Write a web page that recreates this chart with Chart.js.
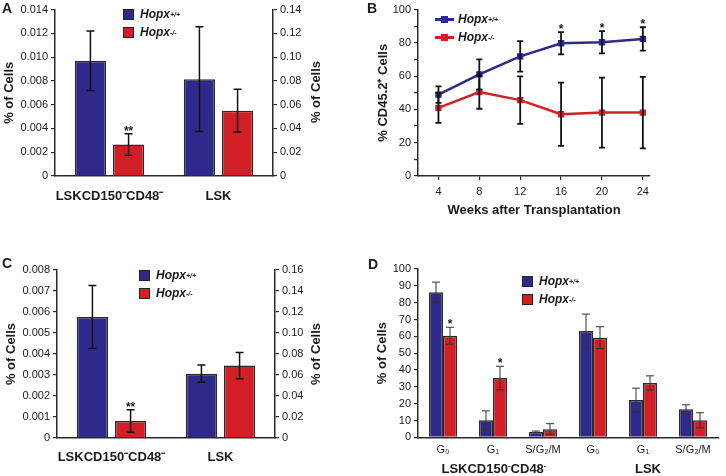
<!DOCTYPE html>
<html>
<head>
<meta charset="utf-8">
<script src="https://cdn.jsdelivr.net/npm/chart.js@4.4.0/dist/chart.umd.min.js"></script>
<style>
  body { margin: 0; background: #fff; }
  #page { position: relative; width: 726px; height: 476px; overflow: hidden; font-family: 'Liberation Sans', Arial, sans-serif; color: #1a1a1a; }
  canvas { position: absolute; display: block; }
  .letter { position: absolute; font-size: 14px; line-height: 14px; font-weight: bold; }
  .legend { position: absolute; font-size: 12px; font-weight: bold; font-style: italic; }
  .legend .row { height: 18px; display: flex; align-items: center; }
  .legend sup { font-size: 7px; vertical-align: 5px; }
  .swatch { width: 9px; height: 9px; border: 1px solid #222; margin-right: 6px; }
  .lineKey { position: relative; width: 19px; height: 3px; margin-right: 4px; }
  .lineKey span { position: absolute; left: 6px; top: -2px; width: 7px; height: 7px; }
  .vtitle { position: absolute; font-size: 13px; font-weight: bold; white-space: nowrap; transform: translate(-50%, -50%) rotate(-90deg); }
  .group { position: absolute; font-size: 13px; font-weight: bold; white-space: nowrap; transform: translate(-50%, -50%); }
  .group sup { font-size: 8px; vertical-align: 5px; }
</style>
</head>
<body>
<div id="page">
  <canvas id="chartA" width="363" height="238" style="left:0;top:0"></canvas>
  <canvas id="chartB" width="363" height="238" style="left:363px;top:0"></canvas>
  <canvas id="chartC" width="363" height="238" style="left:0;top:238px"></canvas>
  <canvas id="chartD" width="363" height="238" style="left:363px;top:238px"></canvas>

  <div class="letter" style="left:2px;top:1px">A</div>
  <div class="letter" style="left:367px;top:1px">B</div>
  <div class="letter" style="left:2px;top:256px">C</div>
  <div class="letter" style="left:368px;top:257px">D</div>

  <div class="legend" style="left:123px;top:5px">
    <div class="row"><div class="swatch" style="background:#2d2a8c"></div>Hopx<sup>+/+</sup></div>
    <div class="row"><div class="swatch" style="background:#d21f26"></div>Hopx<sup>-/-</sup></div>
  </div>
  <div class="legend" style="left:435px;top:10px">
    <div class="row"><div class="lineKey" style="background:#2d2a8c"><span style="background:#2d2a8c"></span></div>Hopx<sup>+/+</sup></div>
    <div class="row"><div class="lineKey" style="background:#d21f26"><span style="background:#d21f26"></span></div>Hopx<sup>-/-</sup></div>
  </div>
  <div class="legend" style="left:139px;top:266px">
    <div class="row"><div class="swatch" style="background:#2d2a8c"></div>Hopx<sup>+/+</sup></div>
    <div class="row"><div class="swatch" style="background:#d21f26"></div>Hopx<sup>-/-</sup></div>
  </div>
  <div class="legend" style="left:522px;top:272px">
    <div class="row"><div class="swatch" style="background:#2d2a8c"></div>Hopx<sup>+/+</sup></div>
    <div class="row"><div class="swatch" style="background:#d21f26"></div>Hopx<sup>-/-</sup></div>
  </div>

  <div class="vtitle" style="left:315px;top:92px">% of Cells</div>
  <div class="vtitle" style="left:315px;top:354px">% of Cells</div>

  <div class="group" style="left:494px;top:468px">LSKCD150<sup>-</sup>CD48<sup>-</sup></div>
  <div class="group" style="left:648px;top:468px">LSK</div>
</div>

<script>
// categories
const populations = ['LSKCD150⁻CD48⁻', 'LSK'];
const weeks = [4, 8, 12, 16, 20, 24];
const phases = ['G₀', 'G₁', 'S/G₂/M', 'G₀', 'G₁', 'S/G₂/M'];

// panel A (first population on left axis, LSK on right axis)
const aWildType = [0.0097, 0.0815];
const aWildTypeErr = [0.0025, 0.044];
const aKnockout = [0.00265, 0.055];
const aKnockoutErr = [0.0009, 0.018];
const aStars = ['**', ''];

// panel B
const bWildType = [48.9, 61.1, 71.9, 79.8, 80.4, 82.4];
const bWildTypeErr = [5, 9, 9.2, 6.7, 6.7, 7];
const bKnockout = [40.9, 50.4, 45.6, 37.1, 38.1, 38.1];
const bKnockoutErr = [9, 10, 14.3, 19, 21, 21.5];
const bStars = ['', '', '', '*', '*', '*'];

// panel C
const cWildType = [0.00576, 0.0613];
const cWildTypeErr = [0.0015, 0.0082];
const cKnockout = [0.00081, 0.069];
const cKnockoutErr = [0.00054, 0.0125];
const cStars = ['**', ''];

// panel D
const dWildType = [86.2, 10.1, 3.2, 63.2, 22.2, 16.6];
const dWildTypeErr = [6, 5.6, 0.5, 10, 7, 2.7];
const dKnockout = [60.4, 35.2, 4.8, 59.2, 32.3, 10.1];
const dKnockoutErr = [5, 7, 3.3, 6.5, 4.2, 4.5];
const dStars = ['*', '*', '', '', '', ''];

const BLUE = '#2d2a8c';
const RED = '#d21f26';
const INK = '#2a2a2a';
const FONT = "'Liberation Sans', Arial, sans-serif";

Chart.defaults.font.family = FONT;
Chart.defaults.font.size = 11;
Chart.defaults.color = '#1a1a1a';
Chart.defaults.animation = false;

// draws error bars and significance stars from dataset.errors / dataset.stars
const errorBars = {
    id: 'errorBars',
    afterDatasetsDraw(chart, args, opts) {
        const ctx = chart.ctx;
        chart.data.datasets.forEach((ds, di) => {
            if (!ds.errors) return;
            const meta = chart.getDatasetMeta(di);
            const yScale = chart.scales[meta.yAxisID];
            meta.data.forEach((el, i) => {
                const v = ds.data[i];
                if (v === null || v === undefined) return;
                const x = el.x;
                const top = yScale.getPixelForValue(v + ds.errors[i]);
                const bottom = yScale.getPixelForValue(Math.max(v - ds.errors[i], 0));
                ctx.save();
                ctx.strokeStyle = opts.color;
                ctx.lineWidth = opts.width;
                ctx.beginPath();
                ctx.moveTo(x, top);
                ctx.lineTo(x, bottom);
                ctx.moveTo(x - opts.cap, top);
                ctx.lineTo(x + opts.cap, top);
                ctx.moveTo(x - opts.cap, bottom);
                ctx.lineTo(x + opts.cap, bottom);
                ctx.stroke();
                if (ds.stars && ds.stars[i]) {
                    ctx.fillStyle = '#1a1a1a';
                    ctx.font = 'bold 12px ' + FONT;
                    ctx.textAlign = 'center';
                    ctx.textBaseline = 'alphabetic';
                    ctx.fillText(ds.stars[i], x, top + 1);
                }
                ctx.restore();
            });
        });
    }
};

const only = (values, keep) => values.map((v, i) => (i === keep ? v : null));

const barSet = (label, values, errors, stars, color, axis, keep) => ({
    label: label,
    data: keep === undefined ? values : only(values, keep),
    errors: errors,
    stars: stars,
    yAxisID: axis,
    backgroundColor: color,
    borderColor: INK,
    borderWidth: 1.5,
    skipNull: true,
});

const valueAxis = (position, max, step, width, fmt, title) => ({
    position: position,
    min: 0,
    max: max,
    afterFit: s => { s.width = width; },
    border: { color: INK, width: 1.5 },
    grid: { drawOnChartArea: false, tickLength: 4, color: INK, lineWidth: 1.2 },
    ticks: { stepSize: step, padding: 3, callback: fmt },
    title: title || { display: false },
});

const leftTitle = (text, pad) => ({
    display: true,
    text: text,
    font: { size: 13, weight: 'bold' },
    padding: { top: pad, bottom: 0 },
});

const populationAxis = (height, pad) => ({
    afterFit: s => { s.height = height; },
    grid: { display: false, drawTicks: false },
    border: { color: INK, width: 1.5 },
    ticks: { padding: pad, font: { size: 13, weight: 'bold' }, maxRotation: 0, autoSkip: false },
});

const groupedBars = (canvasId, wt, wtErr, ko, koErr, stars, leftMax, leftStep, rightMax, rightStep, sizes) => {
    new Chart(document.getElementById(canvasId), {
        type: 'bar',
        data: {
            labels: populations,
            datasets: [
                barSet('Hopx+/+', wt, wtErr, null, BLUE, 'y', 0),
                barSet('Hopx-/-', ko, koErr, stars, RED, 'y', 0),
                barSet('Hopx+/+', wt, wtErr, null, BLUE, 'y1', 1),
                barSet('Hopx-/-', ko, koErr, stars, RED, 'y1', 1),
            ]
        },
        options: {
            responsive: false,
            categoryPercentage: 0.7,
            barPercentage: 0.82,
            layout: { padding: { top: sizes.top, left: 0, right: 0, bottom: 0 } },
            plugins: {
                legend: { display: false },
                tooltip: { enabled: false },
                errorBars: { color: '#111', width: 1.5, cap: 4 },
            },
            scales: {
                x: populationAxis(sizes.xHeight, sizes.xPad),
                y: valueAxis('left', leftMax, leftStep, sizes.left, v => (v === 0 ? '0' : v.toFixed(3)),
                    leftTitle('% of Cells', sizes.titlePad)),
                y1: valueAxis('right', rightMax, rightStep, sizes.right, v => (v === 0 ? '0' : v.toFixed(2))),
            }
        },
        plugins: [errorBars]
    });
};

groupedBars('chartA', aWildType, aWildTypeErr, aKnockout, aKnockoutErr, aStars,
    0.014, 0.002, 0.14, 0.02, { top: 7, left: 55, right: 90, xHeight: 62, xPad: 13, titlePad: 2 });

groupedBars('chartC', cWildType, cWildTypeErr, cKnockout, cKnockoutErr, cStars,
    0.008, 0.001, 0.16, 0.02, { top: 32, left: 57, right: 88, xHeight: 38, xPad: 12, titlePad: 4 });

// panel B - engraftment over time
new Chart(document.getElementById('chartB'), {
    type: 'line',
    data: {
        labels: weeks,
        datasets: [
            {
                label: 'Hopx-/-',
                data: bKnockout,
                errors: bKnockoutErr,
                borderColor: RED,
                backgroundColor: RED,
                borderWidth: 2.5,
                pointStyle: 'rect',
                pointRadius: 4.5,
                pointBorderWidth: 0,
            },
            {
                label: 'Hopx+/+',
                data: bWildType,
                errors: bWildTypeErr,
                stars: bStars,
                borderColor: BLUE,
                backgroundColor: BLUE,
                borderWidth: 2.5,
                pointStyle: 'rect',
                pointRadius: 4.5,
                pointBorderWidth: 0,
            },
        ]
    },
    options: {
        responsive: false,
        layout: { padding: { top: 9, right: 76, left: 0, bottom: 0 } },
        plugins: {
            legend: { display: false },
            tooltip: { enabled: false },
            errorBars: { color: '#111', width: 1.8, cap: 3 },
        },
        scales: {
            x: {
                type: 'linear',
                min: 2,
                max: 24.7,
                afterFit: s => { s.height = 62; },
                afterBuildTicks: s => { s.ticks = weeks.map(w => ({ value: w })); },
                border: { color: INK, width: 1.5 },
                grid: { drawOnChartArea: false, tickLength: 4, color: INK, lineWidth: 1.2 },
                ticks: { padding: 5, callback: v => String(v) },
                title: {
                    display: true,
                    text: 'Weeks after Transplantation',
                    font: { size: 13, weight: 'bold' },
                    padding: { top: 20, bottom: 20 },
                },
            },
            y: valueAxis('left', 100, 10, 55, v => (v % 20 === 0 ? String(v) : ''),
                leftTitle('% CD45.2⁺ Cells', 13)),
        }
    },
    plugins: [errorBars]
});

// panel D - cell cycle
new Chart(document.getElementById('chartD'), {
    type: 'bar',
    data: {
        labels: phases,
        datasets: [
            barSet('Hopx+/+', dWildType, dWildTypeErr, null, BLUE, 'y'),
            barSet('Hopx-/-', dKnockout, dKnockoutErr, dStars, RED, 'y'),
        ]
    },
    options: {
        responsive: false,
        categoryPercentage: 0.56,
        barPercentage: 1.0,
        layout: { padding: { top: 31, right: 8, left: 0, bottom: 0 } },
        plugins: {
            legend: { display: false },
            tooltip: { enabled: false },
            errorBars: { color: '#333', width: 1, cap: 4 },
        },
        scales: {
            x: {
                afterFit: s => { s.height = 38.7; },
                grid: { display: false, drawTicks: false },
                border: { color: INK, width: 1.5 },
                ticks: { padding: 6, maxRotation: 0, autoSkip: false },
            },
            y: valueAxis('left', 100, 10, 55, v => String(v), leftTitle('% of Cells', 12)),
        }
    },
    plugins: [errorBars]
});
</script>
</body>
</html>
